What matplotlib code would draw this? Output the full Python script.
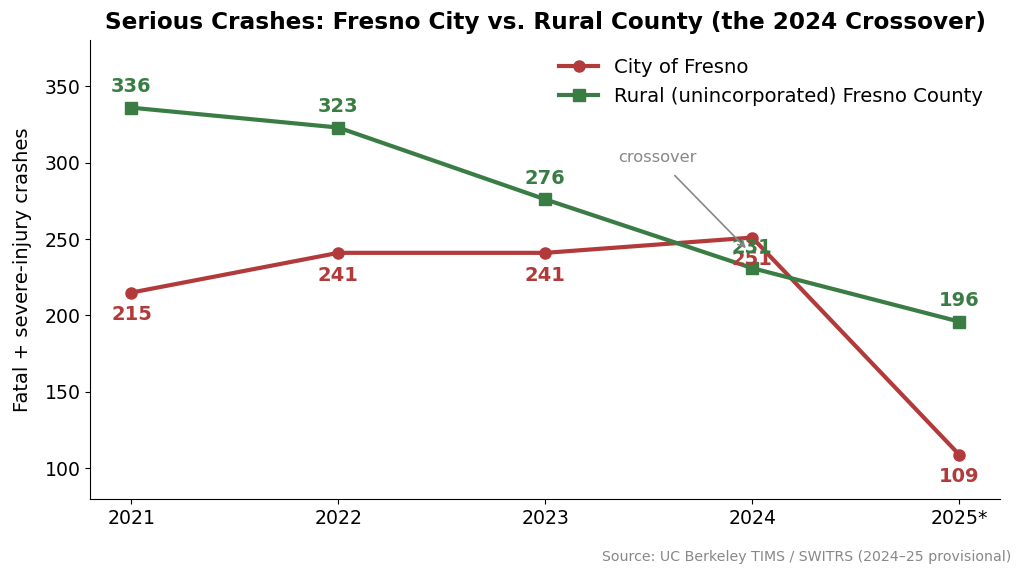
import matplotlib
matplotlib.use("Agg")
import matplotlib.pyplot as plt

years = ["2021", "2022", "2023", "2024", "2025*"]
city = [215, 241, 241, 251, 109]
rural = [336, 323, 276, 231, 196]

red = "#b23a3a"
green = "#3a7d44"

fig, ax = plt.subplots(figsize=(10.24, 5.78), dpi=100)
fig.subplots_adjust(left=0.088, right=0.977, top=0.93, bottom=0.137)

x = list(range(len(years)))
ax.plot(x, city, color=red, lw=3, marker="o", ms=8, label="City of Fresno")
ax.plot(x, rural, color=green, lw=3, marker="s", ms=8, label="Rural (unincorporated) Fresno County")

for xi, v in zip(x, city):
    ax.annotate(str(v), (xi, v), xytext=(0, -16), textcoords="offset points",
                ha="center", va="center", color=red, fontsize=14, fontweight="bold")
for xi, v in zip(x, rural):
    ax.annotate(str(v), (xi, v), xytext=(0, 15), textcoords="offset points",
                ha="center", va="center", color=green, fontsize=14, fontweight="bold")

ax.annotate("crossover", xy=(2.97, 244), xytext=(2.54, 303.5),
            ha="center", va="center", color="#888888", fontsize=11.7,
            arrowprops=dict(arrowstyle="->", color="#888888", lw=1.2,
                            shrinkA=8, shrinkB=0))

ax.set_xticks(x)
ax.set_xticklabels(years)
ax.set_xlim(-0.2, 4.2)
ax.set_ylim(80, 380)
ax.set_yticks([100, 150, 200, 250, 300, 350])
ax.tick_params(labelsize=13.6)
ax.set_ylabel("Fatal + severe-injury crashes", fontsize=14, labelpad=9)
ax.set_title("Serious Crashes: Fresno City vs. Rural County (the 2024 Crossover)",
             fontsize=16.7, fontweight="bold", pad=8)
ax.spines["top"].set_visible(False)
ax.spines["right"].set_visible(False)
ax.legend(loc="upper right", frameon=False, fontsize=14.1, bbox_to_anchor=(1.0, 1.0))

fig.text(0.988, 0.025, "Source: UC Berkeley TIMS / SWITRS (2024\u201325 provisional)",
         ha="right", va="bottom", color="#888888", fontsize=10.2)

fig.savefig("out.png", dpi=100)
